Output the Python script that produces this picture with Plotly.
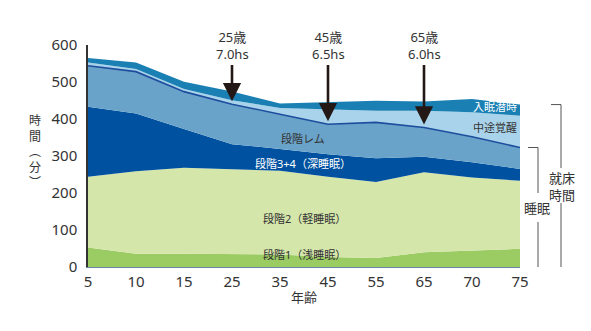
import plotly.graph_objects as go

# Minutes per sleep stage by age group (stacked bottom to top)
ages = ["5", "10", "15", "25", "35", "45", "55", "65", "70", "75"]
stage1 = [53, 36, 36, 34, 34, 27, 24, 40, 45, 49]          # 段階1(浅睡眠)
stage2 = [191, 223, 232, 230, 226, 217, 206, 216, 197, 184]  # 段階2(軽睡眠)
deep = [189, 156, 105, 68, 59, 61, 64, 42, 41, 32]           # 段階3+4(深睡眠)
rem = [111, 113, 101, 108, 94, 81, 97, 79, 69, 58]           # 段階レム
wake = [9, 7, 7, 11, 17, 39, 31, 45, 66, 86]                 # 中途覚醒
latency = [12, 18, 20, 23, 12, 20, 27, 25, 36, 30]           # 入眠潜時

# Callouts: age, label, total sleep hours
callout_ages = ["25", "45", "65"]
callout_text = ["25歳<br>7.0hs", "45歳<br>6.5hs", "65歳<br>6.0hs"]

y_ticks = [0, 100, 200, 300, 400, 500, 600]

FONT = "Noto Sans, Noto Sans CJK JP, sans-serif"
W, H = 591, 331
L, R, T, B = 88, 520, 45, 267


def px(x):
    return (x - L) / (R - L)


def py(y):
    return (B - y) / (B - T)


def val(y):
    return (B - y) / (B - T) * 600


def to_pix(v):
    return B - v / 600 * (B - T)


layers = [
    ("段階1", stage1, "#9bcb63"),
    ("段階2", stage2, "#d5e6aa"),
    ("段階3+4", deep, "#0052a0"),
    ("段階レム", rem, "#6aa3c9"),
    ("中途覚醒", wake, "#a9d3ea"),
    ("入眠潜時", latency, "#1a80b4"),
]

fig = go.Figure()
for name, vals, color in layers:
    is_rem = name == "段階レム"
    fig.add_trace(go.Scatter(
        x=ages, y=vals, name=name, stackgroup="one", mode="lines",
        fillcolor=color,
        line=dict(width=1.6 if is_rem else 0, color="#1d4e9e" if is_rem else color),
        hoverinfo="skip",
    ))

# Cumulative totals used for arrows and brackets
sleep_total = [a + b + c + d for a, b, c, d in zip(stage1, stage2, deep, rem)]
bed_total = [s + w + l for s, w, l in zip(sleep_total, wake, latency)]

annotations = []
TAIL_Y = 65  # pixel row where every callout arrow starts
for age, txt in zip(callout_ages, callout_text):
    i = ages.index(age)
    tip = sleep_total[i] + 8
    annotations.append(dict(
        x=i, y=tip, xref="x", yref="y",
        ax=0, ay=TAIL_Y - to_pix(tip), axref="pixel", ayref="pixel",
        text=txt, showarrow=True, arrowhead=2, arrowsize=1.4, arrowwidth=2.6,
        arrowcolor="#231815", yanchor="bottom", standoff=0,
        font=dict(family=FONT, size=13, color="#333333"),
    ))


# Stage labels inside the areas
def label(x, y, text, color="#333333", size=11, xanchor="center"):
    annotations.append(dict(
        x=px(x), y=py(y), xref="paper", yref="paper", text=text, showarrow=False,
        xanchor=xanchor, yanchor="middle", font=dict(family=FONT, size=size, color=color),
    ))


label(303, 138, "段階レム")
label(303, 163, "段階3+4（深睡眠）", color="white")
label(304, 218, "段階2（軽睡眠）")
label(304, 254, "段階1（浅睡眠）")
label(519, 106, "入眠潜時", color="white", xanchor="right")
label(519, 128, "中途覚醒", xanchor="right")

# Bracket labels
label(562, 186, "就床<br>時間", size=13)
label(537, 208, "睡眠", size=13)

# Vertical y-axis title
label(35, 151, "時<br>間<br>︵<br>分<br>︶", size=12)

shapes = []
line_style = dict(color="#555555", width=1)


def seg(x0, y0, x1, y1):
    shapes.append(dict(type="line", xref="paper", yref="y",
                       x0=px(x0), y0=y0, x1=px(x1), y1=y1, line=line_style))


# Outer bracket: time in bed
top_bed = bed_total[-1]
seg(551, top_bed, 561, top_bed)
seg(561, top_bed, 561, val(168))
seg(561, val(203), 561, val(268))
seg(551, val(268), 561, val(268))

# Inner bracket: sleep
top_sleep = sleep_total[-1]
seg(528, top_sleep, 538, top_sleep)
seg(538, top_sleep, 538, val(193))
seg(538, val(222), 538, val(268))
seg(528, val(268), 538, val(268))

fig.update_layout(
    width=W, height=H,
    margin=dict(l=L, r=W - R, t=T, b=H - B),
    paper_bgcolor="white", plot_bgcolor="white",
    showlegend=False,
    font=dict(family=FONT, color="#333333"),
    annotations=annotations, shapes=shapes,
    xaxis=dict(
        type="category", range=[0, len(ages) - 1], showgrid=False, zeroline=False,
        showline=True, linecolor="#6a86a6", linewidth=1, ticks="",
        tickfont=dict(family=FONT, size=15, color="#333333"),
        ticklabelstandoff=1,
        title=dict(text="年齢", font=dict(family=FONT, size=13, color="#333333"), standoff=2),
    ),
    yaxis=dict(
        range=[0, 600], tickvals=y_ticks, showgrid=False, zeroline=False,
        showline=True, linecolor="#333333", linewidth=1.5, ticks="",
        tickfont=dict(family=FONT, size=15, color="#333333"),
        ticklabelstandoff=6,
    ),
)

fig.write_html("out.html")
